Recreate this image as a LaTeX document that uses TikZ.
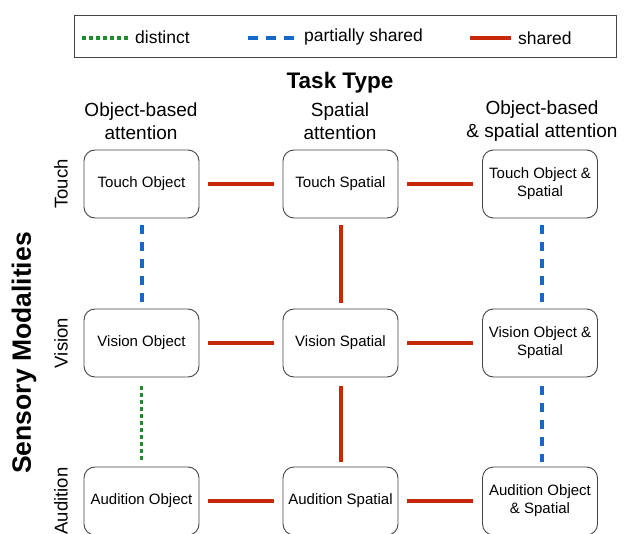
\documentclass[tikz,border=0pt]{standalone}
\usepackage{fontspec}
\setmainfont{Liberation Sans}
\definecolor{sred}{HTML}{C8280A}
\definecolor{sblue}{HTML}{1469C8}
\definecolor{sgreen}{HTML}{1E8C2D}
\definecolor{boxgray}{HTML}{444444}
\begin{document}
\begin{tikzpicture}[x=1pt,y=-1pt,
  cell/.style={draw=boxgray,line width=0.9pt,rounded corners=11pt,minimum width=115pt,minimum height=68pt,align=center,font=\fontsize{15}{18}\selectfont,inner sep=2pt},
  shared/.style={draw=sred,line width=4pt},
  partial/.style={draw=sblue,line width=4pt,dash pattern=on 9pt off 8pt},
  distinct/.style={draw=sgreen,line width=3.5pt,dash pattern=on 3.5pt off 3.5pt},
  head/.style={align=center,font=\fontsize{19}{22.5}\selectfont},
  rowlab/.style={rotate=90,font=\fontsize{18.5}{21}\selectfont},
  leg/.style={anchor=west,font=\fontsize{17.5}{20}\selectfont,inner sep=0pt}]
\useasboundingbox (0,0) rectangle (626,534);
\clip (0,0) rectangle (626,534);
% legend
\node[draw=boxgray,line width=0.9pt,minimum width=542pt,minimum height=42pt,inner sep=0pt] (legend) at (345,36) {};
\coordinate (ld1) at (82,38); \coordinate (ld2) at (129,38);
\draw[distinct] (ld1) -- (ld2);
\node[leg] (ltd) at (135,37) {distinct};
\coordinate (lp1) at (248,38); \coordinate (lp2) at (296,38);
\draw[partial,dash pattern=on 10pt off 8pt] (lp1) -- (lp2);
\node[leg] (ltp) at (304,37) {partially shared};
\coordinate (ls1) at (470,38); \coordinate (ls2) at (511,38);
\draw[shared] (ls1) -- (ls2);
\node[leg] (lts) at (518,38.5) {shared};
% titles
\node[font=\bfseries\fontsize{22.5}{26}\selectfont] (tt) at (340,83) {Task Type};
\node[head] (h1) at (141,121) {Object-based\\attention};
\node[head] (h2) at (340,121) {Spatial\\attention};
\node[head] (h3) at (542,121) {Object-based\\\& spatial attention};
\node[rotate=90,font=\bfseries\fontsize{26.5}{30}\selectfont] (sm) at (24,353) {Sensory Modalities};
\node[rowlab] (r1) at (61,184) {Touch};
\node[rowlab] (r2) at (61,343) {Vision};
\node[rowlab] (r3) at (61,501) {Audition};
% cells
\node[cell] (to) at (141.5,184) {Touch Object};
\node[cell] (ts) at (340.5,184) {Touch Spatial};
\node[cell] (tos) at (540,184) {Touch Object \&\\Spatial};
\node[cell] (vo) at (141.5,343) {Vision Object};
\node[cell] (vs) at (340.5,343) {Vision Spatial};
\node[cell] (vos) at (540,343) {Vision Object \&\\Spatial};
\node[cell] (ao) at (141.5,501) {Audition Object};
\node[cell] (as) at (340.5,501) {Audition Spatial};
\node[cell] (aos) at (540,501) {Audition Object\\\& Spatial};
% horizontal connectors
\foreach \a/\b in {to/ts,ts/tos,vo/vs,vs/vos,ao/as,as/aos}
  \draw[shared,shorten <=9pt,shorten >=9pt] (\a) -- (\b);
% vertical connectors
\draw[partial,shorten <=7pt,shorten >=5pt] (to) -- (vo);
\draw[shared,shorten <=7pt,shorten >=6pt] (ts) -- (vs);
\draw[partial,shorten <=7pt,shorten >=5pt] ([xshift=2pt]tos.south) -- ([xshift=2pt]vos.north);
\draw[distinct,shorten <=9pt,shorten >=5pt] (vo) -- (ao);
\draw[shared,shorten <=9pt,shorten >=5pt] (vs) -- (as);
\draw[partial,shorten <=9pt,shorten >=5pt] ([xshift=2pt]vos.south) -- ([xshift=2pt]aos.north);
\end{tikzpicture}
\end{document}
